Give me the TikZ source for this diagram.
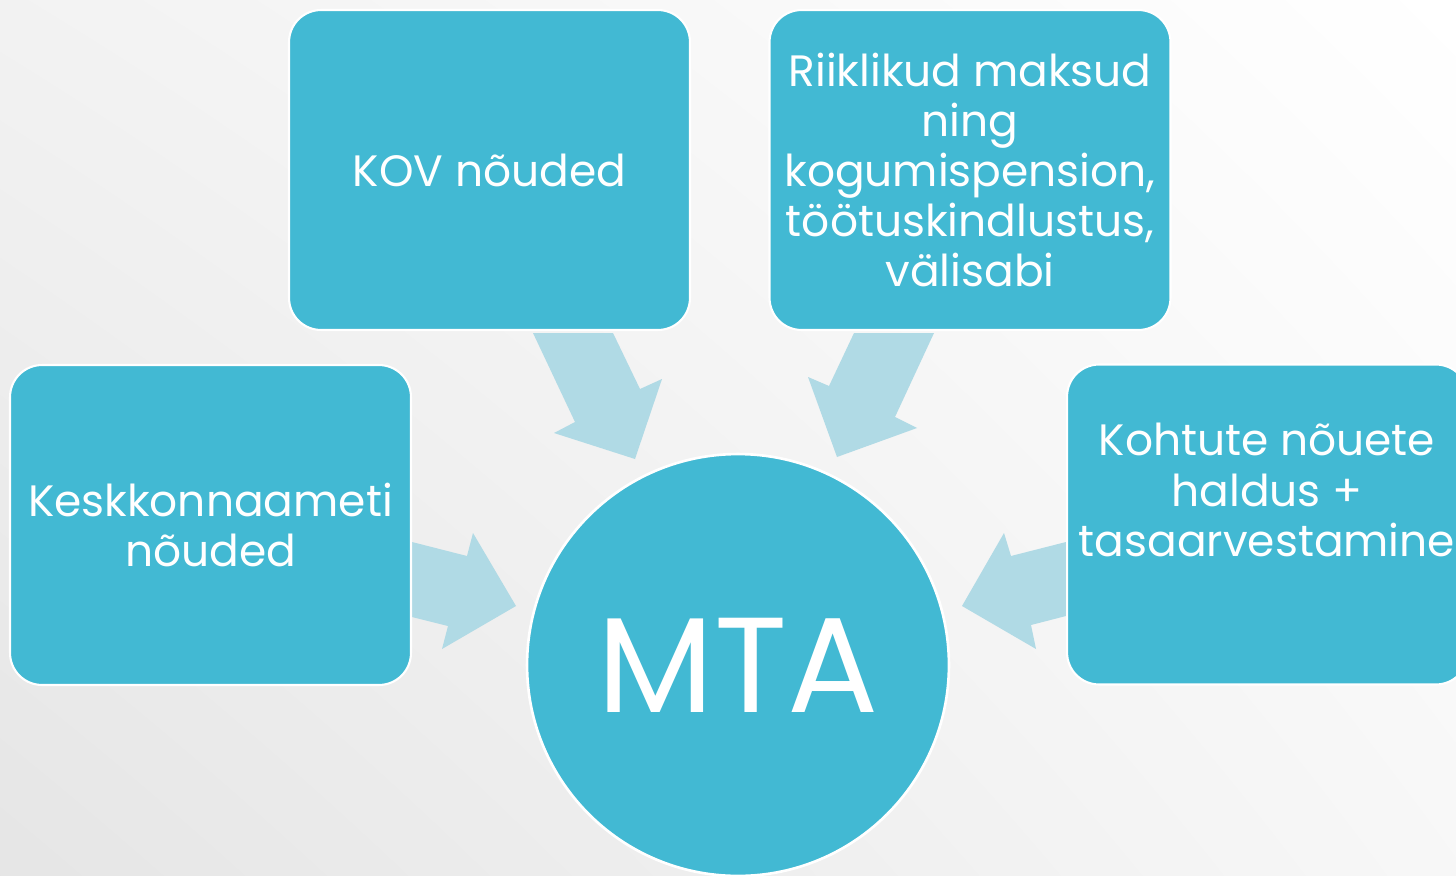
\documentclass[tikz,border=0pt]{standalone}
\usepackage{fontspec}
\setmainfont{Poppins}
\usetikzlibrary{positioning,shadings}
\definecolor{boxblue}{HTML}{42B9D3}
\definecolor{arrowblue}{HTML}{B0DAE5}
\begin{document}
\begin{tikzpicture}[
            x=0.02cm, y=-0.02cm,
            box/.style={draw=white, line width=1.2pt, fill=boxblue, rounded corners=0.64cm,
              minimum width=8.02cm, minimum height=6.4cm, inner sep=0pt, text=white, align=center,
              font=\fontsize{25}{28.5}\selectfont},
            txt/.style={text=white, align=center, inner sep=0pt, font=\fontsize{25}{28.5}\selectfont},
            blockarrow/.style={fill=arrowblue, draw=none}, ]
            \clip (0,0) rectangle (1456,875);
            \shade[upper left=black!5, upper right=white, lower left=black!10, lower right=black!3]
              (0,0) rectangle (1456,875);
            % arrows
            \fill[blockarrow] (533,333) -- (613,333) -- (640,389) -- (662,379) -- (635,459)
              -- (554,433) -- (575,422) -- cycle;
            \fill[blockarrow] (854,333) -- (934,333) -- (895,417) -- (917,428) -- (837,457)
              -- (808,377) -- (829,386) -- cycle;
            \fill[blockarrow] (412,542) -- (467,556) -- (473,533) -- (516,606) -- (442,649)
              -- (448,626) -- (412,617) -- cycle;
            \fill[blockarrow] (1066,542) -- (1011,556) -- (1004,533) -- (962,606) -- (1036,649)
              -- (1031,625) -- (1066,616) -- cycle;
            % boxes
            \node[box] (kov) at (489.5,170) {KOV nõuded};
            \node[box] (riik) at (970,170) {Riiklikud maksud\\ning\\kogumispension,\\töötuskindlustus,\\välisabi};
            \node[box] (keskk) at (210.5,525) {Keskkonnaameti\\nõuded};
            \node[box] (kohus) at (1267.5,524.5) {};
            \node[txt] (kohustxt) at (1267,490) {Kohtute nõuete\\haldus +\\tasaarvestamine};
            % centre
            \node[circle, draw=white, line width=1.5pt, fill=boxblue, minimum size=8.44cm,
              text=white, font=\fontsize{77}{77}\selectfont] (mta) at (738,665) {MTA};
\end{tikzpicture}
\end{document}
